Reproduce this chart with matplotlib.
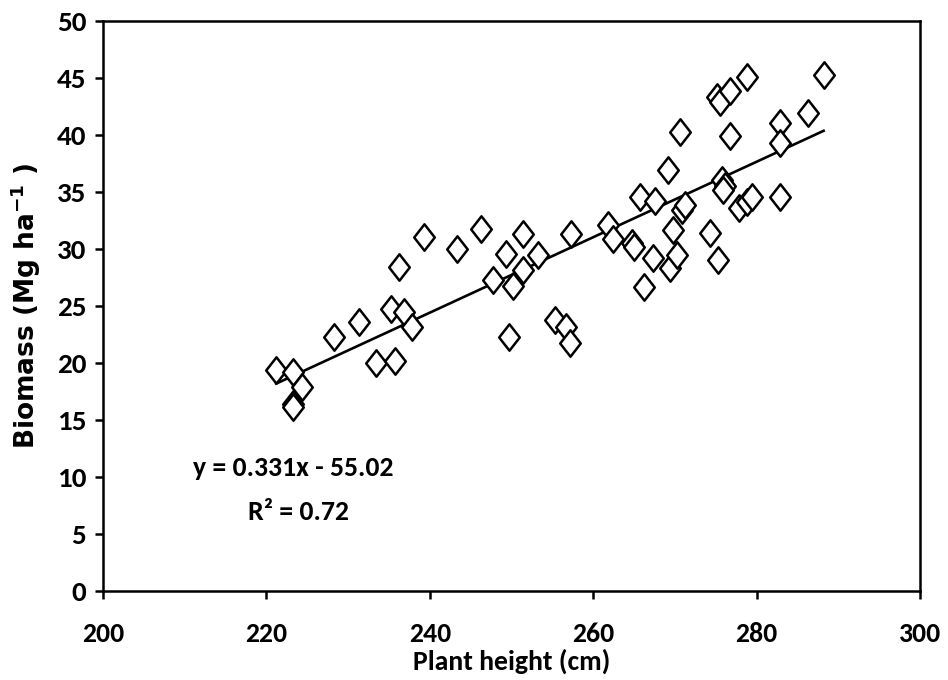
import matplotlib
matplotlib.use("Agg")
import matplotlib.pyplot as plt
import numpy as np
from matplotlib.path import Path

plant_height = [221.2, 223.3, 223.3, 223.3, 224.4, 228.3, 231.3, 233.4, 235.7, 235.3,
                236.8, 237.8, 236.2, 239.3, 243.3, 246.3, 247.7, 249.3, 250.2, 249.7,
                251.4, 251.4, 253.2, 255.3, 256.7, 257.2, 257.3, 261.8, 262.4, 264.7,
                265.0, 265.7, 266.2, 267.3, 267.6, 269.2, 269.4, 269.8, 270.3, 270.6,
                270.9, 271.2, 274.3, 275.3, 275.2, 275.5, 276.7, 278.8, 276.7, 275.8,
                276.1, 275.9, 277.9, 278.8, 279.4, 282.9, 282.9, 282.9, 286.3, 288.2]
biomass = [19.4, 19.2, 16.4, 16.1, 17.9, 22.3, 23.6, 20.0, 20.2, 24.7,
           24.5, 23.2, 28.4, 31.1, 30.0, 31.8, 27.3, 29.6, 26.8, 22.3,
           31.3, 28.2, 29.5, 23.8, 23.2, 21.8, 31.3, 32.1, 30.9, 30.5,
           30.2, 34.6, 26.7, 29.2, 34.2, 36.9, 28.3, 31.7, 29.5, 40.3,
           33.4, 33.9, 31.4, 29.0, 43.3, 42.9, 43.9, 45.1, 39.9, 36.1,
           35.5, 35.2, 33.6, 34.1, 34.6, 41.1, 39.3, 34.6, 41.9, 45.3]
slope = 0.331
intercept = -55.02
r2 = 0.72

x_ticks = [200, 220, 240, 260, 280, 300]
y_ticks = [0, 5, 10, 15, 20, 25, 30, 35, 40, 45, 50]

calib = ['Carlito', 'Open Sans', 'DejaVu Sans']
wide = ['DejaVu Sans']

fig = plt.figure(figsize=(9.48, 6.8), dpi=100)
ax = fig.add_axes([0.1087, 0.1309, 0.9705 - 0.1087, 0.969 - 0.1309])

diamond = Path([(0, 1), (0.78, 0), (0, -1), (-0.78, 0), (0, 1)],
               [Path.MOVETO, Path.LINETO, Path.LINETO, Path.LINETO, Path.CLOSEPOLY])
ax.plot(plant_height, biomass, linestyle='none', marker=diamond, markersize=19,
        markerfacecolor='white', markeredgecolor='black', markeredgewidth=1.8, zorder=3)

xl = np.array([min(plant_height), max(plant_height)])
ax.plot(xl, slope * xl + intercept, color='black', linewidth=1.9, zorder=2)

ax.set_xlim(200, 300)
ax.set_ylim(0, 50)
ax.set_xticks(x_ticks)
ax.set_yticks(y_ticks)

ax.set_xticklabels([str(v) for v in x_ticks], family=calib, fontweight='bold', fontsize=20)
ax.set_yticklabels([str(v) for v in y_ticks], family=calib, fontweight='bold', fontsize=21)
for s in ax.spines.values():
    s.set_linewidth(1.8)
ax.tick_params(axis='both', direction='out', length=6, width=1.8)
ax.tick_params(axis='x', pad=16)
ax.tick_params(axis='y', pad=6)

ax.set_xlabel('Plant height (cm)', family=calib, fontweight='bold', fontsize=20, labelpad=2)
ax.set_ylabel('Biomass (Mg ha$^{\\mathbf{-1}}$ )', family=wide, fontweight='bold', fontsize=19, labelpad=10)

ax.text(211.0, 10.8, f'y = {slope}x - {abs(intercept):.2f}', ha='left', va='center',
        family=calib, fontweight='bold', fontsize=20)
ax.text(217.7, 6.9, f'R² = {r2}', ha='left', va='center',
        family=calib, fontweight='bold', fontsize=20)

fig.savefig('out.png', dpi=100)
